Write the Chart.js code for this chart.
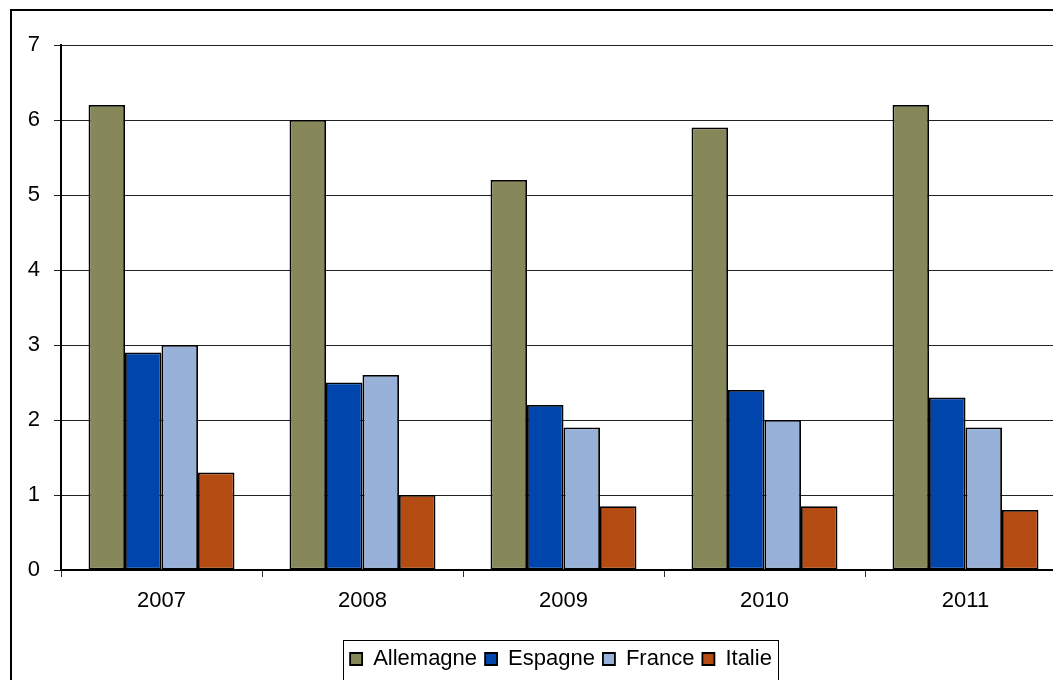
<!DOCTYPE html>
<html>
<head>
<meta charset="utf-8">
<script src="https://cdn.jsdelivr.net/npm/chart.js@4.4.1/dist/chart.umd.min.js"></script>
<style>
  html, body { margin: 0; padding: 0; background: #fff; overflow: hidden; }
  #wrap { position: absolute; left: 0; top: 0; width: 1080px; height: 680px; }
</style>
</head>
<body>
<div id="wrap"><canvas id="c" width="1080" height="680"></canvas></div>
<script>
const categories = ['2007', '2008', '2009', '2010', '2011'];
const allemagne = [6.2, 6.0, 5.2, 5.9, 6.2];
const espagne   = [2.9, 2.5, 2.2, 2.4, 2.3];
const france    = [3.0, 2.6, 1.9, 2.0, 1.9];
const italie    = [1.3, 1.0, 0.85, 0.85, 0.8];
const seriesNames = ['Allemagne', 'Espagne', 'France', 'Italie'];
const yTicks = [0, 1, 2, 3, 4, 5, 6, 7];

const colors = ['#86885A', '#0045AB', '#97B1D8', '#B34B13'];
const FONT = { family: "'Liberation Sans', Arial, sans-serif", size: 22 };

const frameAndLegendBox = {
  id: 'frameAndLegendBox',
  beforeDraw(chart) {
    const ctx = chart.ctx;
    ctx.save();
    ctx.fillStyle = '#fff';
    ctx.fillRect(0, 0, chart.width, chart.height);
    ctx.restore();
  },
  afterLayout(chart) {
    const L = chart.legend;
    const shift = 561 - (L.left + L.right) / 2;
    L.left += shift;
    L.right += shift;
  },
  afterDraw(chart) {
    const ctx = chart.ctx;
    ctx.save();
    ctx.strokeStyle = '#000';
    ctx.lineWidth = 2;
    ctx.strokeRect(11, 10, 2000, 2000);
    const hb = chart.legend.legendHitBoxes;
    if (hb && hb.length) {
      const first = hb[0], last = hb[hb.length - 1];
      const l = Math.round(first.left - 7) + 0.5;
      const r = Math.round(last.left + last.width + 6) + 0.5;
      ctx.lineWidth = 1;
      ctx.strokeRect(l, 640.5, r - l, 200);
    }
    ctx.restore();
  }
};

const legendHeight = {
  id: 'legendHeight',
  beforeInit(chart) {
    const fit = chart.legend.fit;
    chart.legend.fit = function () {
      fit.bind(chart.legend)();
      this.height = 40;
    };
  }
};

new Chart(document.getElementById('c'), {
  type: 'bar',
  data: {
    labels: categories,
    datasets: [
      { label: seriesNames[0], data: allemagne, backgroundColor: colors[0] },
      { label: seriesNames[1], data: espagne, backgroundColor: colors[1] },
      { label: seriesNames[2], data: france, backgroundColor: colors[2] },
      { label: seriesNames[3], data: italie, backgroundColor: colors[3] }
    ].map(d => Object.assign(d, { borderColor: '#000', borderWidth: 1.8, borderSkipped: false }))
  },
  options: {
    responsive: false,
    animation: false,
    devicePixelRatio: 1,
    categoryPercentage: 0.726,
    barPercentage: 1.0,
    layout: { padding: { left: 0, right: 14, top: 45, bottom: 0 } },
    plugins: {
      legend: {
        position: 'bottom',
        labels: {
          font: FONT,
          color: '#000',
          boxWidth: 12,
          boxHeight: 12,
          padding: 8
        }
      },
      tooltip: { enabled: false },
      title: { display: false }
    },
    scales: {
      x: {
        offset: true,
        grid: {
          display: true,
          offset: true,
          drawOnChartArea: false,
          drawTicks: true,
          tickLength: 7,
          color: '#333'
        },
        border: { display: true, color: '#000', width: 2 },
        ticks: { font: FONT, color: '#000', padding: 11 },
        afterFit(scale) { scale.height = 70; }
      },
      y: {
        min: 0,
        max: 7,
        afterBuildTicks(scale) { scale.ticks = yTicks.map(v => ({ value: v })); },
        grid: {
          color: '#222',
          lineWidth: 1,
          drawTicks: true,
          tickLength: 7
        },
        border: { display: true, color: '#000', width: 2 },
        ticks: { font: FONT, color: '#000', padding: 14 },
        afterFit(scale) { scale.width = 61; }
      }
    }
  },
  plugins: [frameAndLegendBox, legendHeight]
});
</script>
</body>
</html>
